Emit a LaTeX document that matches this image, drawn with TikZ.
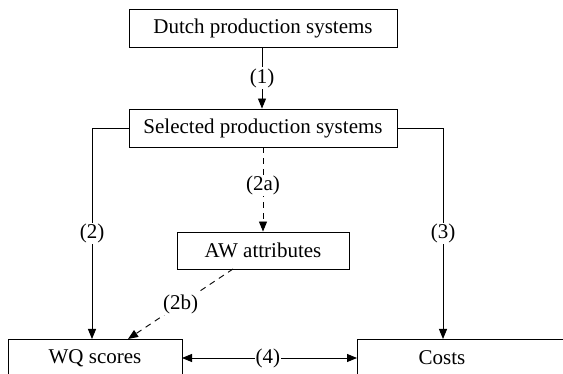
\documentclass[tikz,border=0pt]{standalone}
\usepackage{fontspec}
\setmainfont{Liberation Serif}
\usetikzlibrary{arrows.meta}
\begin{document}
\begin{tikzpicture}[x=1pt,y=-1pt,
  box/.style={draw,line width=0.9pt,inner sep=0pt,font=\fontsize{21}{25}\selectfont},
  lbl/.style={fill=white,inner sep=1pt,font=\fontsize{21}{25}\selectfont},
  conn/.style={line width=0.9pt,-{Triangle[length=10pt,width=8pt]}},
  dsh/.style={conn,dash pattern=on 6pt off 5pt}]
\useasboundingbox (0,0) rectangle (563,374);
\fill[white] (0,0) rectangle (563,374);
\node[box,minimum width=268pt,minimum height=38pt] (dutch) at (263,28) {Dutch production systems};
\node[box,minimum width=268pt,minimum height=38pt] (sel) at (263,128) {Selected production systems};
\node[box,minimum width=172pt,minimum height=37pt] (aw) at (263,250.5) {AW attributes};
\node[box,minimum width=174pt,minimum height=50pt,anchor=north west] (wq) at (8,339) {};
\node[font=\fontsize{21}{25}\selectfont] (wqt) at (95,358) {WQ scores};
\node[box,minimum width=230pt,minimum height=50pt,anchor=north west] (cost) at (357,339) {};
\node[font=\fontsize{21}{25}\selectfont] (costt) at (442,358) {Costs};
\coordinate (wqin) at (92,339);
\coordinate (wqin2) at (128,339);
\coordinate (cin) at (443,339);
\coordinate (wqr) at (182,358);
\coordinate (cl) at (357,358);
\coordinate (awout) at (233,269);
\draw[conn] (dutch.south -| 262,0) -- node[lbl,pos=0.5]{(1)} (sel.north -| 262,0);
\draw[conn] (sel.west) -| node[lbl,pos=0.75]{(2)} (wqin);
\draw[conn] (sel.east) -| node[lbl,pos=0.75]{(3)} (cin);
\draw[dsh] (sel.south) -- node[lbl,pos=0.45]{(2a)} (aw.north);
\draw[dsh] (awout) -- node[lbl,pos=0.5]{(2b)} (wqin2);
\draw[line width=0.9pt,{Triangle[length=10pt,width=8pt]}-{Triangle[length=10pt,width=8pt]}] (wqr) -- node[lbl,pos=0.49]{(4)} (cl);
\end{tikzpicture}
\end{document}
